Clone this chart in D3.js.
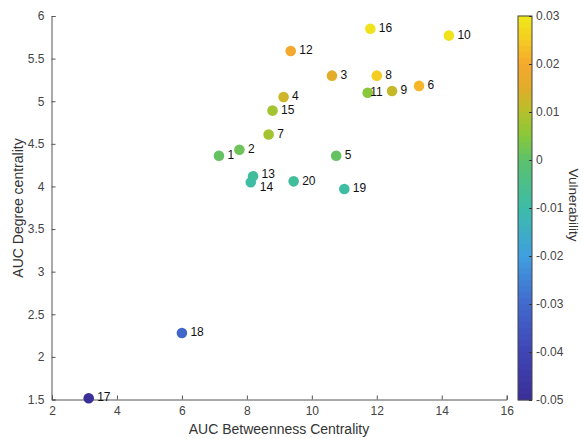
<!DOCTYPE html>
<html>
<head>
<meta charset="utf-8">
<script src="https://cdn.jsdelivr.net/npm/d3@7"></script>
<style>
  html, body { margin: 0; padding: 0; background: #fff; }
  svg { display: block; font-family: "Liberation Sans", Arial, Helvetica, sans-serif; }
</style>
</head>
<body>
<svg id="chart" width="583" height="439"></svg>
<script>
// Node identifiers (labels drawn next to each point)
const nodeIds = [1, 2, 3, 4, 5, 6, 7, 8, 9, 10, 11, 12, 13, 14, 15, 16, 17, 18, 19, 20];
// AUC of betweenness centrality per node
const aucBetweenness = [7.14, 7.77, 10.62, 9.13, 10.75, 13.30, 8.67, 12.00, 12.47, 14.22,
                        11.72, 9.35, 8.19, 8.12, 8.79, 11.80, 3.13, 6.00, 11.00, 9.44];
// AUC of degree centrality per node
const aucDegree = [4.36, 4.43, 5.30, 5.05, 4.36, 5.18, 4.61, 5.30, 5.12, 5.77,
                   5.10, 5.59, 4.12, 4.05, 4.89, 5.85, 1.515, 2.28, 3.97, 4.06];
// Vulnerability per node (colour)
const vulnerability = [0.001, 0.002, 0.016, 0.013, 0.001, 0.022, 0.008, 0.025, 0.012, 0.029,
                       0.005, 0.019, -0.008, -0.009, 0.008, 0.029, -0.05, -0.031, -0.009, -0.008];

const xTicks = [2, 4, 6, 8, 10, 12, 14, 16];
const yTicks = [1.5, 2, 2.5, 3, 3.5, 4, 4.5, 5, 5.5, 6];
const cTicks = [-0.05, -0.04, -0.03, -0.02, -0.01, 0, 0.01, 0.02, 0.03];

// Parula-like colour ramp over the vulnerability range
const rampStops = [-0.05, -0.04, -0.03, -0.02, -0.01, 0, 0.005, 0.01, 0.015, 0.02, 0.025, 0.03];
const rampColors = ["#3b2f98", "#3f45b5", "#4269cc", "#3f9fe0", "#3cbca8", "#5cc16c",
                    "#88c83a", "#b5c02a", "#e0ae28", "#f6a82e", "#f5cc22", "#efe91a"];
const color = d3.scaleLinear().domain(rampStops).range(rampColors)
  .interpolate(d3.interpolateRgb).clamp(true);

// Label nudges for crowded points
const labelNudge = { 11: { dx: 2.5, dy: 0 }, 13: { dx: 8.5, dy: -1 }, 14: { dx: 9, dy: 5.5 } };

const svg = d3.select("#chart");
const axisColor = "#555";
const tickText = "#444";

const x = d3.scaleLinear().domain([2, 16]).range([52, 506.7]);
const y = d3.scaleLinear().domain([1.5, 6]).range([399.5, 16]);

// X axis (ticks pointing inward)
const gx = svg.append("g").attr("transform", "translate(0,399.5)")
  .call(d3.axisBottom(x).tickValues(xTicks).tickSizeInner(-4).tickSizeOuter(-4)
        .tickPadding(7).tickFormat(d3.format("d")));
gx.select(".domain").attr("stroke", axisColor);
gx.selectAll(".tick line").attr("stroke", axisColor);
gx.selectAll("text").attr("fill", tickText).style("font-size", "12px");

// Y axis (ticks pointing inward)
const gy = svg.append("g").attr("transform", "translate(51.5,0)")
  .call(d3.axisLeft(y).tickValues(yTicks).tickSizeInner(-4).tickSizeOuter(-4)
        .tickPadding(7).tickFormat(d => String(d)));
gy.select(".domain").attr("stroke", axisColor);
gy.selectAll(".tick line").attr("stroke", axisColor);
gy.selectAll("text").attr("fill", tickText).style("font-size", "12px");

// Axis titles
svg.append("text").attr("x", 279).attr("y", 434).attr("text-anchor", "middle")
  .attr("fill", "#333").style("font-size", "14px").text("AUC Betweenness Centrality");
svg.append("text").attr("transform", "translate(23,208) rotate(-90)")
  .attr("text-anchor", "middle").attr("fill", "#333").style("font-size", "14px")
  .text("AUC Degree centrality");

// Points
const nodes = nodeIds.map((id, i) => ({
  id, bx: aucBetweenness[i], dg: aucDegree[i], v: vulnerability[i]
}));

svg.append("g").selectAll("circle").data(nodes).join("circle")
  .attr("cx", d => x(d.bx)).attr("cy", d => y(d.dg)).attr("r", 5.3)
  .attr("fill", d => color(d.v));

svg.append("g").selectAll("text").data(nodes).join("text")
  .attr("x", d => x(d.bx) + (labelNudge[d.id] ? labelNudge[d.id].dx : 8.5))
  .attr("y", d => y(d.dg) + (labelNudge[d.id] ? labelNudge[d.id].dy : 0) + 3.2)
  .attr("fill", "#111").style("font-size", "12px")
  .text(d => d.id);

// Colour bar
const cb = { x0: 518, w: 14, top: 16, bottom: 400 };
const c = d3.scaleLinear().domain([-0.05, 0.03]).range([cb.bottom, cb.top]);
const nSteps = 64;
const stepVals = d3.range(nSteps).map(k => -0.05 + (k + 0.5) * 0.08 / nSteps);
const stepH = (cb.bottom - cb.top) / nSteps;
svg.append("g").selectAll("rect").data(stepVals).join("rect")
  .attr("x", cb.x0).attr("width", cb.w)
  .attr("y", d => c(d) - stepH / 2 - 0.3).attr("height", stepH + 0.6)
  .attr("fill", d => color(d));
svg.append("rect").attr("x", cb.x0).attr("y", cb.top).attr("width", cb.w)
  .attr("height", cb.bottom - cb.top).attr("fill", "none").attr("stroke", "#444");

const fmtC = d => d === 0 ? "0" : d3.format(".2f")(d).replace("\u2212", "-");
const gc = svg.append("g").attr("transform", `translate(${cb.x0 + cb.w},0)`)
  .call(d3.axisRight(c).tickValues(cTicks).tickSizeInner(-3).tickSizeOuter(0)
        .tickPadding(4).tickFormat(fmtC));
gc.select(".domain").remove();
gc.selectAll(".tick line").attr("stroke", "#333");
gc.selectAll("text").attr("fill", tickText).style("font-size", "12px");

svg.append("text").attr("transform", "translate(569,205) rotate(90)")
  .attr("text-anchor", "middle").attr("fill", "#333").style("font-size", "13.5px")
  .text("Vulnerability");
</script>
</body>
</html>
